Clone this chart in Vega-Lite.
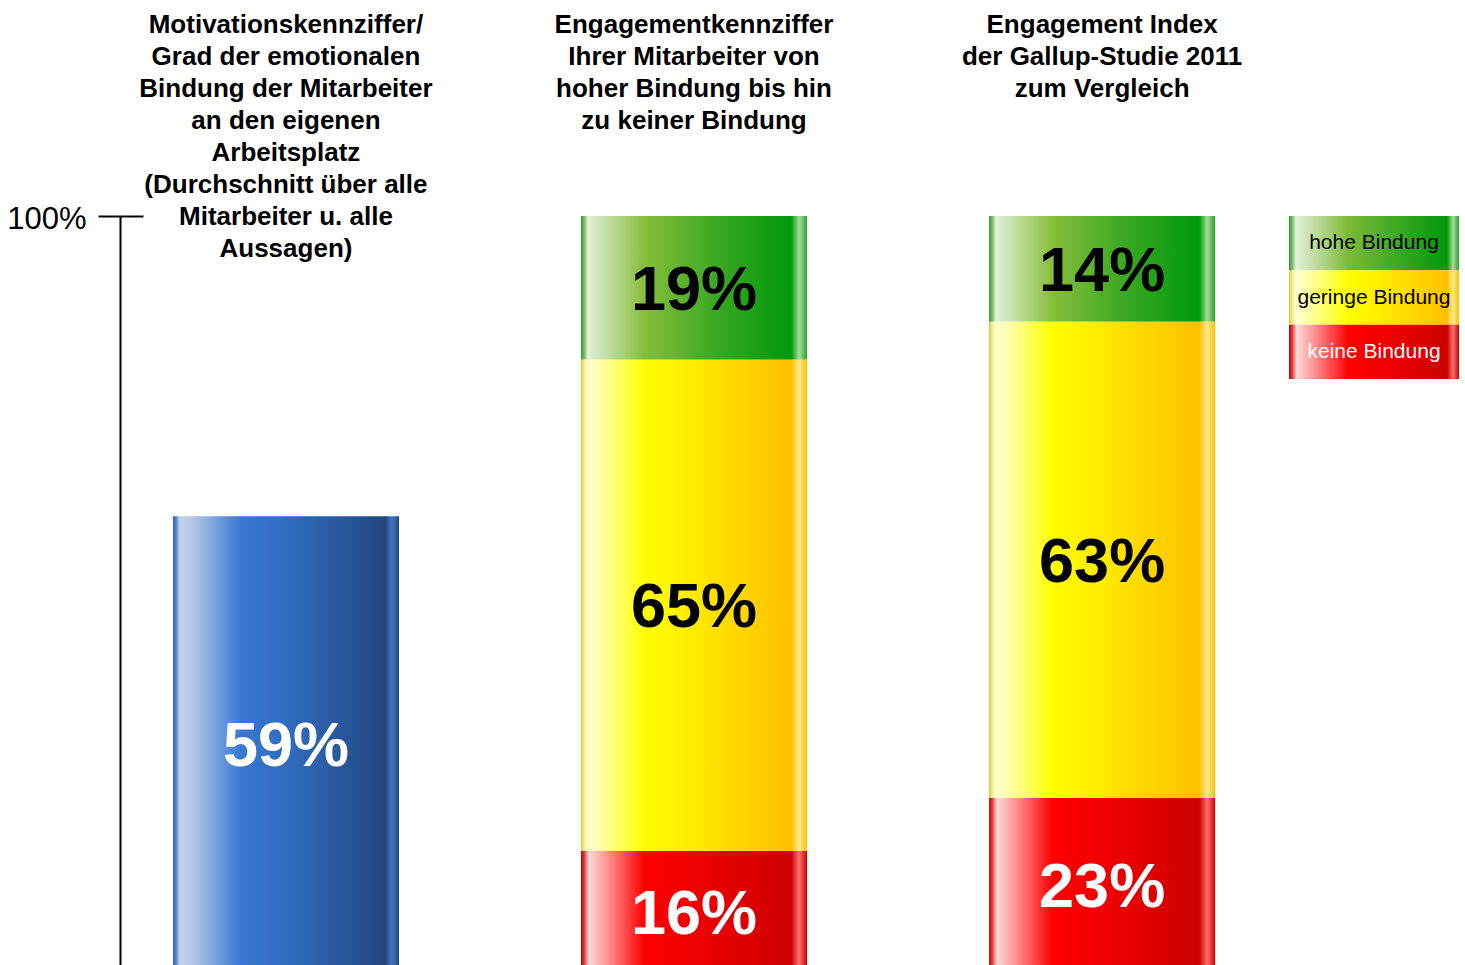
{
  "$schema": "https://vega.github.io/schema/vega-lite/v6.json",
  "width": 1465,
  "height": 965,
  "autosize": "none",
  "padding": 0,
  "background": "white",
  "config": {"view": {"stroke": null}, "font": "Liberation Sans"},
  "datasets": {
    "segments": [
      {"bar": "Motivation", "cat": "blue", "value": 60.3, "label": "59%"},
      {"bar": "Engagement", "cat": "none", "value": 16, "label": "16%"},
      {"bar": "Engagement", "cat": "low", "value": 65, "label": "65%"},
      {"bar": "Engagement", "cat": "high", "value": 19, "label": "19%"},
      {"bar": "Gallup", "cat": "none", "value": 23, "label": "23%"},
      {"bar": "Gallup", "cat": "low", "value": 63, "label": "63%"},
      {"bar": "Gallup", "cat": "high", "value": 14, "label": "14%"}
    ],
    "titles": [
      {"bar": "Motivation", "title": ["Motivationskennziffer/", "Grad der emotionalen", "Bindung der Mitarbeiter", "an den eigenen", "Arbeitsplatz", "(Durchschnitt über alle", "Mitarbeiter u. alle", "Aussagen)"]},
      {"bar": "Engagement", "title": ["Engagementkennziffer", "Ihrer Mitarbeiter von", "hoher Bindung bis hin", "zu keiner Bindung"]},
      {"bar": "Gallup", "title": ["Engagement Index", "der Gallup-Studie 2011", "zum Vergleich"]}
    ],
    "legend": [
      {"item": "hohe Bindung", "cat": "high"},
      {"item": "geringe Bindung", "cat": "low"},
      {"item": "keine Bindung", "cat": "none"}
    ]
  },
  "layer": [
    {
      "encoding": {
        "x": {"field": "bar", "type": "nominal", "axis": null,
              "scale": {"domain": ["Motivation", "Engagement", "Gallup"], "paddingInner": 0.446, "paddingOuter": 0.518, "align": 0.409}}
      },
      "layer": [
        {
          "data": {"name": "segments"},
          "transform": [
            {"stack": "value", "groupby": ["bar"], "sort": [{"field": "cat", "order": "descending"}], "as": ["y0", "y1"]},
            {"calculate": "(datum.y0 + datum.y1) / 2", "as": "mid"}
          ],
          "layer": [
            {
              "transform": [{"filter": "datum.cat === 'blue'"}],
              "mark": {"type": "bar", "color": {"gradient": "linear", "x1": 0, "x2": 1, "y1": 0, "y2": 0, "stops": [
                {"offset": 0, "color": "#2f62b0"},
                {"offset": 0.015, "color": "#5a86c8"},
                {"offset": 0.03, "color": "#c4d3ea"},
                {"offset": 0.08, "color": "#b6c9e5"},
                {"offset": 0.3, "color": "#3879d3"},
                {"offset": 0.55, "color": "#2f68b8"},
                {"offset": 0.94, "color": "#22477e"},
                {"offset": 0.965, "color": "#4373bf"},
                {"offset": 0.985, "color": "#3563aa"},
                {"offset": 1, "color": "#1f4175"}]}},
              "encoding": {
                "y": {"field": "y1", "type": "quantitative",
                      "scale": {"domain": [0, 100], "range": [972, 216], "nice": false, "zero": false},
                      "axis": {"orient": "left", "offset": -120, "values": [100], "labelExpr": "datum.value + '%'",
                               "tickSize": 22, "tickWidth": 2, "tickColor": "black", "domainColor": "black", "domainWidth": 2,
                               "labelFont": "Liberation Sans", "labelFontSize": 31, "labelColor": "black", "labelPadding": 12,
                               "labelOffset": 3, "grid": false, "title": null}},
                "y2": {"field": "y0"}
              }
            },
            {
              "transform": [{"filter": "datum.cat === 'high'"}],
              "mark": {"type": "bar", "color": {"gradient": "linear", "x1": 0, "x2": 1, "y1": 0, "y2": 0, "stops": [
                {"offset": 0, "color": "#2e9a28"},
                {"offset": 0.015, "color": "#7cc070"},
                {"offset": 0.03, "color": "#e2f0d4"},
                {"offset": 0.12, "color": "#c2dda2"},
                {"offset": 0.28, "color": "#86be3a"},
                {"offset": 0.6, "color": "#3aa822"},
                {"offset": 0.93, "color": "#00990a"},
                {"offset": 0.965, "color": "#a8dc98"},
                {"offset": 1, "color": "#2aa030"}]}},
              "encoding": {
                "y": {"field": "y1", "type": "quantitative",
                      "scale": {"domain": [0, 100], "range": [972, 216], "nice": false, "zero": false},
                      "axis": {"orient": "left", "offset": -120, "values": [100], "tickSize": -23, "tickWidth": 2, "tickColor": "black",
                               "labels": false, "domain": false, "grid": false, "title": null}},
                "y2": {"field": "y0"}
              }
            },
            {
              "transform": [{"filter": "datum.cat === 'low'"}],
              "mark": {"type": "bar", "color": {"gradient": "linear", "x1": 0, "x2": 1, "y1": 0, "y2": 0, "stops": [
                {"offset": 0, "color": "#d8cc30"},
                {"offset": 0.015, "color": "#f0f0a0"},
                {"offset": 0.03, "color": "#ffffd0"},
                {"offset": 0.12, "color": "#ffff90"},
                {"offset": 0.28, "color": "#ffff00"},
                {"offset": 0.6, "color": "#ffe000"},
                {"offset": 0.93, "color": "#ffc000"},
                {"offset": 0.965, "color": "#ffe890"},
                {"offset": 1, "color": "#ffc000"}]}},
              "encoding": {
                "y": {"field": "y1", "type": "quantitative", "axis": null,
                      "scale": {"domain": [0, 100], "range": [972, 216], "nice": false, "zero": false}},
                "y2": {"field": "y0"}
              }
            },
            {
              "transform": [{"filter": "datum.cat === 'none'"}],
              "mark": {"type": "bar", "color": {"gradient": "linear", "x1": 0, "x2": 1, "y1": 0, "y2": 0, "stops": [
                {"offset": 0, "color": "#c00000"},
                {"offset": 0.015, "color": "#e04040"},
                {"offset": 0.035, "color": "#ffd8d8"},
                {"offset": 0.12, "color": "#ff9090"},
                {"offset": 0.28, "color": "#ff0000"},
                {"offset": 0.6, "color": "#e80000"},
                {"offset": 0.93, "color": "#cc0000"},
                {"offset": 0.965, "color": "#ff7070"},
                {"offset": 1, "color": "#cc0000"}]}},
              "encoding": {
                "y": {"field": "y1", "type": "quantitative", "axis": null,
                      "scale": {"domain": [0, 100], "range": [972, 216], "nice": false, "zero": false}},
                "y2": {"field": "y0"}
              }
            },
            {
              "mark": {"type": "text", "font": "Liberation Sans", "fontSize": 63, "fontWeight": "bold", "align": "center", "baseline": "middle", "dy": 3},
              "encoding": {
                "y": {"field": "mid", "type": "quantitative", "axis": null,
                      "scale": {"domain": [0, 100], "range": [972, 216], "nice": false, "zero": false}},
                "text": {"field": "label"},
                "color": {"condition": {"test": "datum.cat === 'blue' || datum.cat === 'none'", "value": "white"}, "value": "black"}
              }
            }
          ],
          "resolve": {"axis": {"y": "independent"}}
        },
        {
          "data": {"name": "titles"},
          "mark": {"type": "text", "font": "Liberation Sans", "fontSize": 26, "fontWeight": "bold", "lineHeight": 32, "align": "center", "baseline": "top", "color": "black"},
          "encoding": {
            "y": {"datum": 127.05, "type": "quantitative", "axis": null,
                  "scale": {"domain": [0, 100], "range": [972, 216], "nice": false, "zero": false}},
            "text": {"field": "title"}
          }
        }
      ],
      "resolve": {"axis": {"y": "independent"}}
    },
    {
      "data": {"name": "legend"},
      "encoding": {
        "x": {"datum": "Legende", "type": "nominal", "axis": null,
              "scale": {"range": [1289, 1459], "paddingInner": 0, "paddingOuter": 0}},
        "y": {"field": "item", "type": "nominal", "axis": null,
              "sort": ["hohe Bindung", "geringe Bindung", "keine Bindung"],
              "scale": {"range": [216, 379], "paddingInner": 0, "paddingOuter": 0}}
      },
      "layer": [
        {
          "transform": [{"filter": "datum.cat === 'high'"}],
          "mark": {"type": "bar", "color": {"gradient": "linear", "x1": 0, "x2": 1, "y1": 0, "y2": 0, "stops": [
            {"offset": 0, "color": "#2e9a28"},
            {"offset": 0.02, "color": "#7cc070"},
            {"offset": 0.04, "color": "#e2f0d4"},
            {"offset": 0.15, "color": "#c2dda2"},
            {"offset": 0.35, "color": "#7cba38"},
            {"offset": 0.65, "color": "#3aa822"},
            {"offset": 0.93, "color": "#00990a"},
            {"offset": 0.965, "color": "#a8dc98"},
            {"offset": 1, "color": "#2aa030"}]}}
        },
        {
          "transform": [{"filter": "datum.cat === 'low'"}],
          "mark": {"type": "bar", "color": {"gradient": "linear", "x1": 0, "x2": 1, "y1": 0, "y2": 0, "stops": [
            {"offset": 0, "color": "#d8cc30"},
            {"offset": 0.02, "color": "#f0f0a0"},
            {"offset": 0.04, "color": "#ffffd0"},
            {"offset": 0.15, "color": "#ffff90"},
            {"offset": 0.35, "color": "#ffff00"},
            {"offset": 0.65, "color": "#ffe000"},
            {"offset": 0.93, "color": "#ffc000"},
            {"offset": 0.965, "color": "#ffe890"},
            {"offset": 1, "color": "#ffc000"}]}}
        },
        {
          "transform": [{"filter": "datum.cat === 'none'"}],
          "mark": {"type": "bar", "color": {"gradient": "linear", "x1": 0, "x2": 1, "y1": 0, "y2": 0, "stops": [
            {"offset": 0, "color": "#c00000"},
            {"offset": 0.02, "color": "#e04040"},
            {"offset": 0.045, "color": "#ffd8d8"},
            {"offset": 0.15, "color": "#ff9090"},
            {"offset": 0.35, "color": "#ff0000"},
            {"offset": 0.65, "color": "#e80000"},
            {"offset": 0.93, "color": "#cc0000"},
            {"offset": 0.965, "color": "#ff7070"},
            {"offset": 1, "color": "#cc0000"}]}}
        },
        {
          "mark": {"type": "text", "font": "Liberation Sans", "fontSize": 21, "align": "center", "baseline": "middle"},
          "encoding": {
            "text": {"field": "item"},
            "color": {"condition": {"test": "datum.cat === 'none'", "value": "white"}, "value": "black"}
          }
        }
      ]
    }
  ],
  "resolve": {"scale": {"x": "independent", "y": "independent"}, "axis": {"x": "independent", "y": "independent"}}
}
